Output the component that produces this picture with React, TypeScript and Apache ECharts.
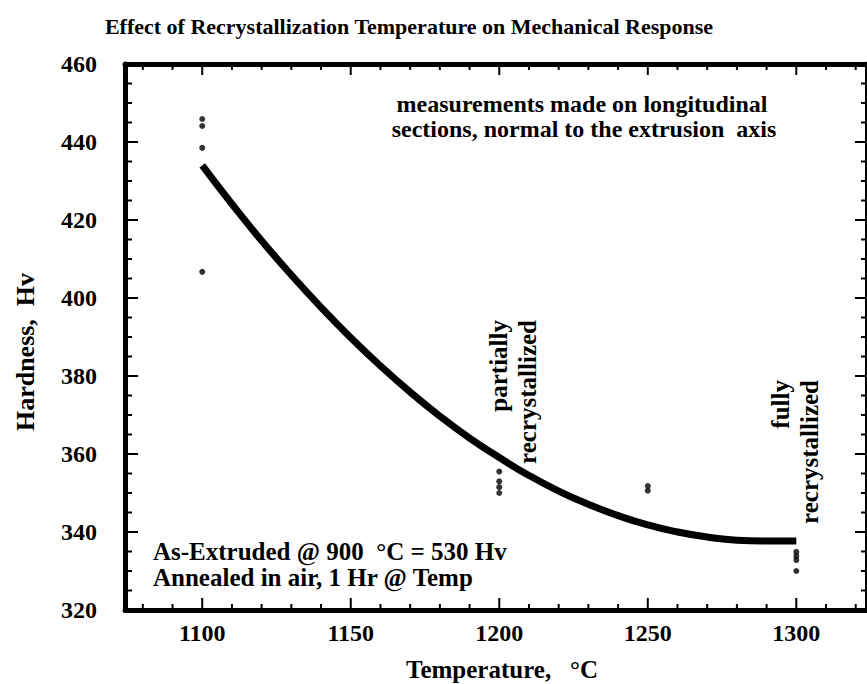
import React, { useEffect, useRef } from "react";
import * as echarts from "echarts";

const titleText = "Effect of Recrystallization Temperature on Mechanical Response";
const xAxisName = "Temperature,   °C";
const yAxisName = "Hardness,  Hv";

const curveTemps = [1100, 1110, 1120, 1130, 1140, 1150, 1160, 1170, 1180, 1190, 1200, 1210, 1220, 1230, 1240, 1250, 1260, 1270, 1280, 1290, 1300];
const curveHardness = [434.0, 424.1, 414.7, 405.9, 397.6, 389.8, 382.6, 375.9, 369.7, 364.1, 359.1, 354.5, 350.5, 347.1, 344.2, 341.8, 340.0, 338.7, 337.9, 337.7, 337.7];

const pointTemps = [1100, 1100, 1100, 1100, 1200, 1200, 1200, 1200, 1250, 1250, 1300, 1300, 1300, 1300];
const pointHardness = [445.9, 444.1, 438.5, 406.7, 355.5, 353.0, 351.5, 350.0, 351.8, 350.6, 334.9, 333.8, 332.8, 330.0];

const xMajorTicks = [1100, 1150, 1200, 1250, 1300];
const xMinorTicks = [1080, 1090, 1110, 1120, 1130, 1140, 1160, 1170, 1180, 1190, 1210, 1220, 1230, 1240, 1260, 1270, 1280, 1290, 1310, 1320];
const yMajorTicks = [340, 360, 380, 400, 420, 440];
const yMinorTicks = [325, 330, 335, 345, 350, 355, 365, 370, 375, 385, 390, 395, 405, 410, 415, 425, 430, 435, 445, 450, 455];

const FONT = "'Liberation Serif', 'Times New Roman', serif";
const X_MIN = 1074;
const X_MAX = 1323.8;
const Y_MIN = 320;
const Y_MAX = 460;

export default function App() {
  const ref = useRef<HTMLDivElement>(null);
  useEffect(() => {
    document.body.style.margin = "0";
    if (!ref.current) return;
    const chart = echarts.init(ref.current, undefined, { renderer: "svg" });

    // side: 0 bottom, 1 top, 2 left, 3 right
    const tickData: number[][] = [
      ...xMajorTicks.map((v) => [v, 0, 12]),
      ...xMinorTicks.map((v) => [v, 0, 6]),
      ...xMajorTicks.map((v) => [v, 1, 11]),
      ...xMinorTicks.map((v) => [v, 1, 6]),
      ...yMajorTicks.map((v) => [v, 2, 13]),
      ...yMinorTicks.map((v) => [v, 2, 7]),
      ...yMajorTicks.map((v) => [v, 3, 12]),
      ...yMinorTicks.map((v) => [v, 3, 6]),
    ];

    const text = (x: number, y: number, t: string, size: number, align: string, rotation = 0) => ({
      type: "text",
      x,
      y,
      rotation,
      style: { text: t, fontFamily: FONT, fontWeight: "bold", fontSize: size, fill: "#000", align, verticalAlign: "middle" },
    });

    chart.setOption({
      animation: false,
      backgroundColor: "#fff",
      grid: { left: 125, top: 64, width: 743, height: 546, containLabel: false },
      xAxis: [
        {
          type: "value",
          position: "bottom",
          min: X_MIN,
          max: X_MAX,
          splitLine: { show: false },
          axisLine: { show: true, onZero: false, lineStyle: { color: "#000", width: 5 } },
          axisTick: { show: false },
          axisLabel: {
            show: true,
            customValues: xMajorTicks,
            margin: 11,
            formatter: (v: number) => String(v),
            fontFamily: FONT,
            fontWeight: "bold",
            fontSize: 24,
            color: "#000",
          },
        },
        {
          type: "value",
          position: "top",
          min: X_MIN,
          max: X_MAX,
          splitLine: { show: false },
          axisLine: { show: true, onZero: false, lineStyle: { color: "#000", width: 5 } },
          axisTick: { show: false },
          axisLabel: { show: false },
        },
      ],
      yAxis: [
        {
          type: "value",
          position: "left",
          min: Y_MIN,
          max: Y_MAX,
          interval: 20,
          splitLine: { show: false },
          axisLine: { show: true, onZero: false, lineStyle: { color: "#000", width: 5 } },
          axisTick: { show: false },
          axisLabel: { show: true, margin: 28, fontFamily: FONT, fontWeight: "bold", fontSize: 24, color: "#000" },
        },
        {
          type: "value",
          position: "right",
          min: Y_MIN,
          max: Y_MAX,
          interval: 20,
          splitLine: { show: false },
          axisLine: { show: true, onZero: false, lineStyle: { color: "#000", width: 5 } },
          axisTick: { show: false },
          axisLabel: { show: false },
        },
      ],
      series: [
        {
          type: "custom",
          coordinateSystem: "cartesian2d",
          xAxisIndex: 0,
          yAxisIndex: 0,
          clip: false,
          silent: true,
          z: 5,
          renderItem: (_params: any, api: any) => {
            const v = api.value(0);
            const side = api.value(1);
            const len = api.value(2);
            let a: number[];
            let b: number[];
            if (side === 0) {
              a = api.coord([v, Y_MIN]);
              b = [a[0], a[1] - len];
            } else if (side === 1) {
              a = api.coord([v, Y_MAX]);
              b = [a[0], a[1] + len];
            } else if (side === 2) {
              a = api.coord([X_MIN, v]);
              b = [a[0] + len, a[1]];
            } else {
              a = api.coord([X_MAX, v]);
              b = [a[0] - len, a[1]];
            }
            return {
              type: "line",
              shape: { x1: a[0], y1: a[1], x2: b[0], y2: b[1] },
              style: { stroke: "#000", lineWidth: 2 },
            };
          },
          data: tickData,
        },
        {
          type: "line",
          xAxisIndex: 0,
          yAxisIndex: 0,
          data: curveTemps.map((t, i) => [t, curveHardness[i]]),
          smooth: true,
          showSymbol: false,
          lineStyle: { color: "#000", width: 7 },
          z: 3,
        },
        {
          type: "scatter",
          xAxisIndex: 0,
          yAxisIndex: 0,
          data: pointTemps.map((t, i) => [t, pointHardness[i]]),
          symbol: "circle",
          symbolSize: 6,
          itemStyle: { color: "#000" },
          z: 4,
        },
      ],
      graphic: [
        text(409, 26, titleText, 22, "center"),
        text(502, 669, xAxisName, 25, "center"),
        text(25, 352, yAxisName, 26, "center", Math.PI / 2),
        text(582, 104, "measurements made on longitudinal", 24, "center"),
        text(584, 129, "sections, normal to the extrusion  axis", 24, "center"),
        text(498, 320, "partially", 25, "right", Math.PI / 2),
        text(527, 320, "recrystallized", 25, "right", Math.PI / 2),
        text(780, 380, "fully", 25, "right", Math.PI / 2),
        text(809, 380, "recrystallized", 25, "right", Math.PI / 2),
        text(153, 551, "As-Extruded @ 900  °C = 530 Hv", 25, "left"),
        text(153, 577, "Annealed in air, 1 Hr @ Temp", 25, "left"),
      ],
    });
    return () => chart.dispose();
  }, []);
  return <div ref={ref} style={{ width: 867, height: 684, overflow: "hidden" }} />;
}
